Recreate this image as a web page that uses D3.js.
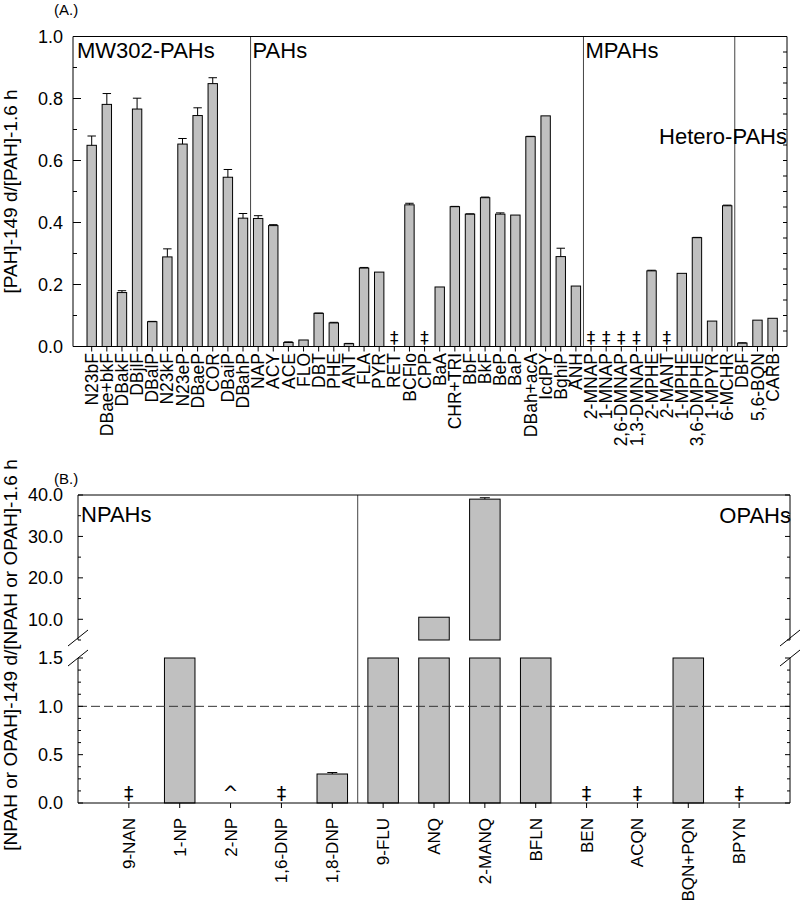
<!DOCTYPE html>
<html><head><meta charset="utf-8">
<script src="https://cdn.jsdelivr.net/npm/d3@7"></script>
<style>
body{margin:0;background:#fff}
text{font-family:"Liberation Sans",Arial,sans-serif;fill:#000}
text.mk{font-family:"DejaVu Sans",sans-serif;fill:#000}
</style>
</head><body>
<svg id="c" width="800" height="901"></svg>
<script>
// ---------- Panel A data ----------
const topCategories = ["N23bF","DBae+bkF","DBakF","DBjlF","DBalP","N23kF","N23eP","DBaeP","COR","DBaiP","DBahP",
  "NAP","ACY","ACE","FLO","DBT","PHE","ANT","FLA","PYR","RET","BCFlo","CPP","BaA","CHR+TRI","BbF","BkF","BeP","BaP","DBah+acA","IcdPY","BghiP","ANH",
  "2-MNAP","1-MNAP","2,6-DMNAP","1,3-DMNAP","2-MPHE","2-MANT","1-MPHE","3,6-DMPHE","1-MPYR","6-MCHR",
  "DBF","5,6-BQN","CARB"];
const topValues = [0.649,0.781,0.174,0.766,0.080,0.289,0.653,0.745,0.848,0.546,0.414,
  0.413,0.390,0.013,0.021,0.107,0.076,0.009,0.253,0.240,null,0.457,null,0.192,0.451,0.427,0.480,0.427,0.424,0.677,0.744,0.290,0.195,
  null,null,null,null,0.244,null,0.236,0.351,0.082,0.454,
  0.011,0.085,0.091];
const topErrors = [0.030,0.035,0.006,0.035,0.001,0.026,0.018,0.025,0.019,0.025,0.015,
  0.009,0.003,0.002,0,0.001,0.002,0.001,0.002,0,0,0.005,0,0,0.001,0.001,0.002,0.004,0,0.001,0,0.027,0,
  0,0,0,0,0.002,0,0,0.001,0,0.002,
  0.001,0,0];
const topMarkers = topValues.map(v => v === null ? "‡" : "");
const topGroupNames = ["MW302-PAHs","PAHs","MPAHs","Hetero-PAHs"];
const topGroupStart = [0,11,33,43];
const topYTicks = [0,0.2,0.4,0.6,0.8,1.0];

// ---------- Panel B data ----------
const botCategories = ["9-NAN","1-NP","2-NP","1,6-DNP","1,8-DNP","9-FLU","ANQ","2-MANQ","BFLN","BEN","ACQN","BQN+PQN","BPYN"];
const botValues = [null,1.5,null,null,0.30,1.5,10.5,39.0,1.5,null,null,1.5,null];
const botErrors = [0,0,0,0,0.005,0,0,0.1,0,0,0,0,0];
const botMarkers = ["‡","","^","‡","","","","","","‡","‡","","‡"];
const botGroupNames = ["NPAHs","OPAHs"];
const botGroupStart = [0,5];
const botLowTicks = [0,0.5,1.0,1.5];
const botHighTicks = [10,20,30,40];
const refLine = 1.0;

const svg = d3.select("#c");
svg.append("rect").attr("width",800).attr("height",901).attr("fill","#fff");
const BAR = "#c0c0c0";

function line(g,x1,y1,x2,y2,stroke="#000",w=1){
  return g.append("line").attr("x1",x1).attr("y1",y1).attr("x2",x2).attr("y2",y2)
    .attr("stroke",stroke).attr("stroke-width",w);
}

// ================= Panel A =================
(function(){
  const L=73, R=787, T=36.5, B=346.5;
  const g = svg.append("g");
  const x = d3.scaleLinear().domain([0,topCategories.length-1]).range([91.7,772.6]);
  const y = d3.scaleLinear().domain([0,1]).range([B,T]);
  const step = x(1)-x(0), bw = step*0.62;

  topGroupStart.slice(1).forEach(s => line(g, x(s-0.5), T, x(s-0.5), B, "#444", 1));

  topCategories.forEach((c,i)=>{
    const v = topValues[i];
    if (v === null) return;
    g.append("rect").attr("x",x(i)-bw/2).attr("y",y(v)).attr("width",bw).attr("height",y(0)-y(v))
      .attr("fill",BAR).attr("stroke","#000").attr("stroke-width",1);
    const e = topErrors[i];
    if (e > 0){
      line(g, x(i), y(v), x(i), y(v+e));
      line(g, x(i)-bw*0.45, y(v+e), x(i)+bw*0.45, y(v+e));
    }
  });
  topCategories.forEach((c,i)=>{
    if (!topMarkers[i]) return;
    g.append("text").attr("class","mk").attr("x",x(i)).attr("y",B-3).attr("text-anchor","middle")
      .attr("font-size",17).text(topMarkers[i]);
  });

  line(g,L,T,R,T); line(g,R,T,R,B); line(g,L,T,L,B); line(g,L,B,R,B);

  d3.range(0,1.0001,0.1).forEach(t=>{
    const major = Math.abs(Math.round(t*10)%2)===0;
    line(g, L, y(t), L+(major?8:4), y(t));
  });
  d3.range(0,1.0001,0.05).forEach(t=> line(g, R-4, y(t), R, y(t)));
  topYTicks.forEach(t=>{
    g.append("text").attr("x",63).attr("y",y(t)).attr("dy","0.35em").attr("text-anchor","end")
      .attr("font-size",18).text(d3.format(".1f")(t));
  });
  topCategories.forEach((c,i)=>{
    line(g, x(i), B, x(i), B+5);
    g.append("text").attr("transform",`translate(${x(i)},353) rotate(-90)`)
      .attr("dy","0.35em").attr("text-anchor","end").attr("font-size",17.5).text(c);
  });
  topGroupNames.forEach((n,k)=>{
    if (k < 3){
      const gx = k===0 ? L+4 : x(topGroupStart[k]-0.5)+2;
      g.append("text").attr("x",gx).attr("y",58).attr("font-size",22).text(n);
    } else {
      g.append("text").attr("x",R).attr("y",144).attr("text-anchor","end").attr("font-size",22).text(n);
    }
  });
  g.append("text").attr("transform",`translate(17,${(T+B)/2}) rotate(-90)`)
    .attr("text-anchor","middle").attr("font-size",19).text("[PAH]-149 d/[PAH]-1.6 h");
  g.append("text").attr("x",54).attr("y",15).attr("font-size",15).text("(A.)");
})();

// ================= Panel B =================
(function(){
  const L=78, R=790, T=495, B=803, brkHi=640, brkLo=658;
  const g = svg.append("g");
  const x = d3.scaleLinear().domain([0,botCategories.length+1]).range([L,R]);
  const yLow = d3.scaleLinear().domain([0,1.5]).range([B,brkLo]);
  const yHigh = d3.scaleLinear().domain([5,40]).range([brkHi,T]);
  const step = x(1)-x(0), bw = step*0.6;

  botGroupStart.slice(1).forEach(s => line(g, x(s+0.5), T, x(s+0.5), B, "#444", 1));

  botCategories.forEach((c,i)=>{
    const v = botValues[i];
    if (v === null) return;
    const cx = x(i+1);
    const lv = Math.min(v,1.5);
    g.append("rect").attr("x",cx-bw/2).attr("y",yLow(lv)).attr("width",bw).attr("height",yLow(0)-yLow(lv))
      .attr("fill",BAR).attr("stroke","#000").attr("stroke-width",1);
    if (v > 5){
      g.append("rect").attr("x",cx-bw/2).attr("y",yHigh(v)).attr("width",bw).attr("height",yHigh(5)-yHigh(v))
        .attr("fill",BAR).attr("stroke","#000").attr("stroke-width",1);
    }
    const e = botErrors[i];
    if (e > 0){
      const ys = v > 5 ? yHigh : yLow;
      line(g, cx, ys(v), cx, ys(v+e)-1);
      line(g, cx-5, ys(v+e)-1, cx+5, ys(v+e)-1);
    }
  });
  botCategories.forEach((c,i)=>{
    if (!botMarkers[i]) return;
    g.append("text").attr("class","mk").attr("x",x(i+1)).attr("y",B-3).attr("text-anchor","middle")
      .attr("font-size",19).text(botMarkers[i]);
  });

  line(g, L, yLow(refLine), R, yLow(refLine), "#333", 1).attr("stroke-dasharray","9,4");

  line(g,L,T,R,T); line(g,L,B,R,B);
  [L,R].forEach(ax=>{
    line(g,ax,T,ax,brkHi); line(g,ax,brkLo,ax,B);
    [brkHi-2,brkLo].forEach(by=> line(g, ax-10, by+8, ax+10, by-8));
  });

  d3.range(5,40.001,5).forEach(t=>{
    const major = t%10===0;
    line(g, L, yHigh(t), L+(major?5:3), yHigh(t));
    line(g, R-(major?5:3), yHigh(t), R, yHigh(t));
  });
  d3.range(0,1.5001,0.125).forEach(t=>{
    const major = Math.abs(t*2-Math.round(t*2))<1e-6;
    line(g, L, yLow(t), L+(major?5:3), yLow(t));
    line(g, R-(major?5:3), yLow(t), R, yLow(t));
  });
  botLowTicks.forEach(t=>{
    g.append("text").attr("x",63).attr("y",yLow(t)).attr("dy","0.35em").attr("text-anchor","end")
      .attr("font-size",18).text(d3.format(".1f")(t));
  });
  botHighTicks.forEach(t=>{
    g.append("text").attr("x",63).attr("y",yHigh(t)).attr("dy","0.35em").attr("text-anchor","end")
      .attr("font-size",18).text(d3.format(".1f")(t));
  });
  botCategories.forEach((c,i)=>{
    const cx = x(i+1);
    line(g, cx, B, cx, B+5);
    g.append("text").attr("transform",`translate(${cx},818) rotate(-90)`)
      .attr("dy","0.35em").attr("text-anchor","end").attr("font-size",17).text(c);
  });
  g.append("text").attr("x",L+3).attr("y",522).attr("font-size",22).text(botGroupNames[0]);
  g.append("text").attr("x",R+1).attr("y",523).attr("text-anchor","end").attr("font-size",22).text(botGroupNames[1]);
  g.append("text").attr("transform",`translate(17,655) rotate(-90)`)
    .attr("text-anchor","middle").attr("font-size",19).text("[NPAH or OPAH]-149 d/[NPAH or OPAH]-1.6 h");
  g.append("text").attr("x",54).attr("y",484).attr("font-size",15).text("(B.)");
})();
</script>
</body></html>
